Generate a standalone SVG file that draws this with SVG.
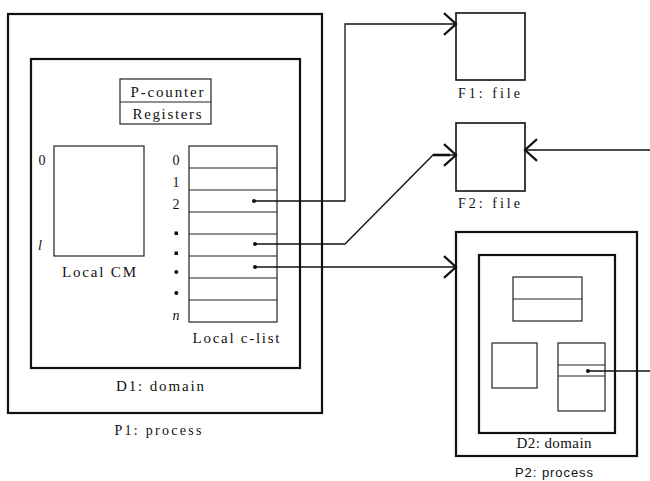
<svg xmlns="http://www.w3.org/2000/svg" width="650" height="481" viewBox="0 0 650 481">
<defs>
<style>
.box{fill:none;stroke:#111;stroke-width:1.6}
.thick{fill:none;stroke:#111;stroke-width:2.2}
.thin{fill:none;stroke:#222;stroke-width:1.2}
.conn{fill:none;stroke:#111;stroke-width:1.3}
.t{font-family:"Liberation Serif",serif;font-size:15px;fill:#111;text-anchor:middle}
.s{font-family:"Liberation Sans",sans-serif;font-size:13px;fill:#111;text-anchor:middle}
.lbl{font-family:"Liberation Serif",serif;font-size:14px;fill:#111;text-anchor:middle}
.it{font-style:italic}
</style>
<marker id="arr" markerUnits="userSpaceOnUse" markerWidth="16" markerHeight="24" viewBox="-12 -11 14 22" refX="0" refY="0" orient="auto">
<path d="M-11,-10 L0,0 L-11,10" fill="none" stroke="#111" stroke-width="2"/>
</marker>
</defs>

<g id="P1">
<rect class="thick" x="8" y="14" width="314" height="399"/>
<text class="lbl" x="158" y="435" textLength="87" lengthAdjust="spacing">P1: process</text>
</g>

<g id="D1">
<rect class="thick" x="31" y="59" width="269" height="309"/>
<text class="t" x="160" y="391" textLength="88" lengthAdjust="spacing">D1: domain</text>
</g>

<g id="registers">
<rect class="thin" x="120" y="79" width="91" height="45"/>
<line class="thin" x1="120" y1="102" x2="211" y2="102"/>
<text class="t" x="167" y="97" textLength="73" lengthAdjust="spacing">P-counter</text>
<text class="t" x="167" y="119" textLength="69" lengthAdjust="spacing">Registers</text>
</g>

<g id="local-cm">
<rect class="thin" x="54" y="146" width="90" height="110"/>
<text class="lbl" x="42" y="165">0</text>
<text class="lbl it" x="40" y="250">l</text>
<text class="t" x="99" y="277" textLength="74" lengthAdjust="spacing">Local CM</text>
</g>

<g id="local-clist">
<rect class="thin" x="189" y="146" width="88" height="176"/>
<line class="thin" x1="189" y1="168" x2="277" y2="168"/>
<line class="thin" x1="189" y1="190" x2="277" y2="190"/>
<line class="thin" x1="189" y1="212" x2="277" y2="212"/>
<line class="thin" x1="189" y1="234" x2="277" y2="234"/>
<line class="thin" x1="189" y1="256" x2="277" y2="256"/>
<line class="thin" x1="189" y1="278" x2="277" y2="278"/>
<line class="thin" x1="189" y1="300" x2="277" y2="300"/>
<text class="lbl" x="176" y="165">0</text>
<text class="lbl" x="176" y="187">1</text>
<text class="lbl" x="176" y="209">2</text>
<rect x="174.5" y="231.5" width="3.5" height="3.5" fill="#111"/>
<rect x="174.5" y="251.5" width="3.5" height="3.5" fill="#111"/>
<circle cx="176.3" cy="272" r="2" fill="#111"/>
<circle cx="176.3" cy="293" r="2" fill="#111"/>
<text class="lbl it" x="176" y="320">n</text>
<circle cx="254" cy="201" r="2" fill="#111"/>
<circle cx="255" cy="244" r="2" fill="#111"/>
<circle cx="255" cy="267" r="2" fill="#111"/>
<text class="t" x="236" y="343" textLength="87" lengthAdjust="spacing">Local c-list</text>
</g>

<g id="F1">
<rect class="box" x="456" y="13" width="69" height="67"/>
<text class="lbl" x="489" y="98" textLength="62" lengthAdjust="spacing">F1: file</text>
</g>

<g id="F2">
<rect class="box" x="456" y="123" width="69" height="68"/>
<text class="lbl" x="489" y="208" textLength="62" lengthAdjust="spacing">F2: file</text>
</g>

<g id="P2">
<rect class="thick" x="456" y="232" width="181" height="224"/>
<text class="s" x="554" y="477" textLength="78" lengthAdjust="spacing">P2: process</text>
</g>

<g id="D2">
<rect class="thick" x="479" y="255" width="136" height="178"/>
<text class="t" x="554" y="448" textLength="75" lengthAdjust="spacing">D2: domain</text>
<rect class="thin" x="513" y="277" width="69" height="44"/>
<line class="thin" x1="513" y1="299" x2="582" y2="299"/>
<rect class="thin" x="492" y="343" width="45" height="45"/>
<rect class="thin" x="558" y="343" width="47" height="68"/>
<line class="thin" x1="558" y1="365" x2="605" y2="365"/>
<line class="thin" x1="558" y1="376" x2="605" y2="376"/>
<circle cx="588" cy="371" r="2" fill="#111"/>
</g>

<g id="connectors">
<polyline class="conn" points="254,201 345,201 345,24 456,24" marker-end="url(#arr)"/>
<polyline class="conn" points="255,244 345,244 433,155 456,155" marker-end="url(#arr)"/>
<line x1="433" y1="155" x2="450" y2="155" stroke="#111" stroke-width="2.6"/>
<line class="conn" x1="255" y1="267" x2="456" y2="267" marker-end="url(#arr)"/>
<line class="conn" x1="650" y1="150" x2="525" y2="150" marker-end="url(#arr)"/>
<line class="conn" x1="588" y1="371" x2="650" y2="371"/>
</g>
</svg>
